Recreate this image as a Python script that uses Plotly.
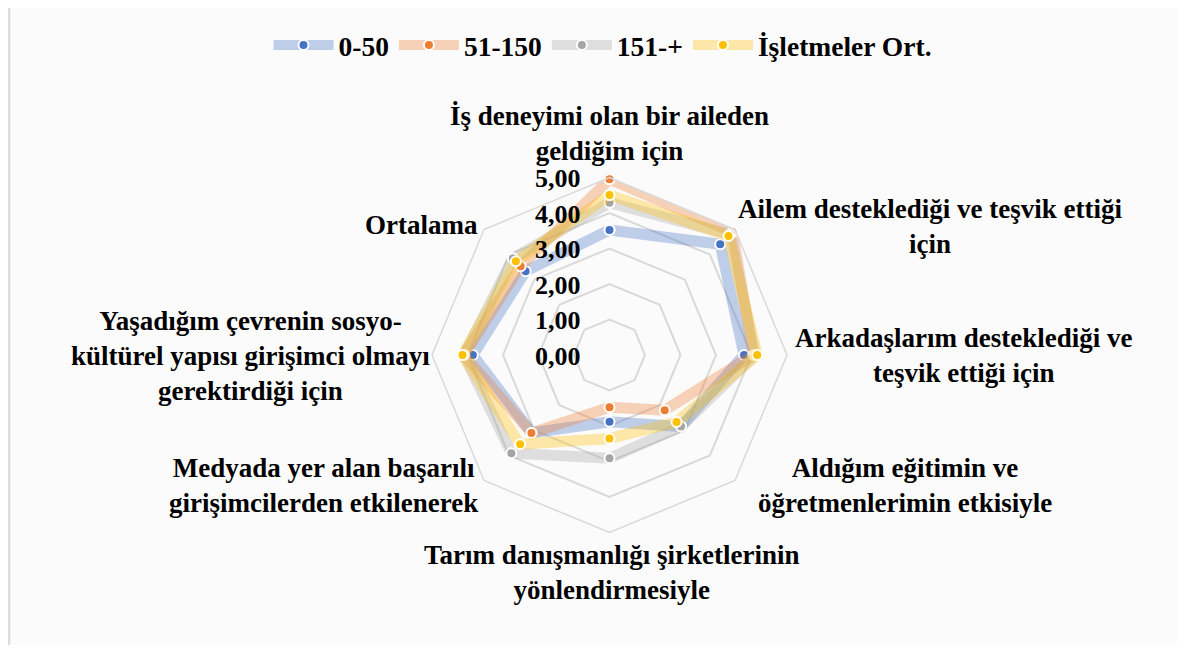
import plotly.graph_objects as go

# data
categories = [
    "İş deneyimi olan bir aileden geldiğim için",
    "Ailem desteklediği ve teşvik ettiği için",
    "Arkadaşlarım desteklediği ve teşvik ettiği için",
    "Aldığım eğitimin ve öğretmenlerimin etkisiyle",
    "Tarım danışmanlığı şirketlerinin yönlendirmesiyle",
    "Medyada yer alan başarılı girişimcilerden etkilenerek",
    "Yaşadığım çevrenin sosyo-kültürel yapısı girişimci olmayı gerektirdiği için",
    "Ortalama",
]
label_text = [
    "İş deneyimi olan bir aileden<br>geldiğim için",
    "Ailem desteklediği ve teşvik ettiği<br>için",
    "Arkadaşlarım desteklediği ve<br>teşvik ettiği için",
    "Aldığım eğitimin ve<br>öğretmenlerimin etkisiyle",
    "Tarım danışmanlığı şirketlerinin<br>yönlendirmesiyle",
    "Medyada yer alan başarılı<br>girişimcilerden etkilenerek",
    "Yaşadığım çevrenin sosyo-<br>kültürel yapısı girişimci olmayı<br>gerektirdiği için",
    "Ortalama",
]
s_0_50 = [3.52, 4.41, 3.79, 2.85, 1.88, 3.10, 3.85, 3.34]
s_51_150 = [4.95, 4.90, 4.05, 2.20, 1.47, 3.11, 4.10, 3.54]
s_151 = [4.29, 4.80, 4.10, 2.85, 2.91, 3.91, 4.10, 3.85]
s_ort = [4.51, 4.74, 4.16, 2.67, 2.35, 3.56, 4.14, 3.73]
series_names = ["0-50", "51-150", "151-+", "İşletmeler Ort."]
tick_vals = [0, 1, 2, 3, 4, 5]
tick_text = ["0,00", "1,00", "2,00", "3,00", "4,00", "5,00"]

series = [s_0_50, s_51_150, s_151, s_ort]
colors = ["#4472C4", "#ED7D31", "#A5A5A5", "#FFC000"]
line_colors = ["rgba(68,114,196,0.33)", "rgba(237,125,49,0.33)",
               "rgba(165,165,165,0.33)", "rgba(255,192,0,0.33)"]

FONT = "Liberation Serif"

# page body has an 8px margin, so work in reference pixels minus 8
W, H = 1169, 637
def px(x):
    return (x - 8) / W
def py(y):
    return 1 - (y - 8) / H

fig = go.Figure()
for name, vals, c, lc in zip(series_names, series, colors, line_colors):
    fig.add_trace(go.Scatterpolar(
        r=vals + vals[:1],
        theta=categories + categories[:1],
        name=name,
        mode="lines+markers",
        line=dict(color=lc, width=11),
        marker=dict(color=c, size=10, line=dict(color="white", width=2)),
    ))

# category labels placed around the chart
label_pos = [(609, 134), (930, 226), (964, 355), (905, 485),
             (612, 572), (323, 485), (250, 356), (421, 225)]
for txt, (x, y) in zip(label_text, label_pos):
    fig.add_annotation(x=px(x), y=py(y), xref="paper", yref="paper",
                       text="<b>" + txt + "</b>", showarrow=False,
                       font=dict(family=FONT, size=27, color="black"),
                       align="center", xanchor="center", yanchor="middle")

# radial tick labels, left of the vertical axis
cx, cy, rad = 609.5, 355, 177.5
for v, t in zip(tick_vals, tick_text):
    fig.add_annotation(x=px(583), y=py(cy - rad * v / 5 + 1), xref="paper", yref="paper",
                       text="<b>" + t + "</b>", showarrow=False,
                       font=dict(family=FONT, size=26, color="black"),
                       xanchor="right", yanchor="middle")

fig.update_layout(
    width=W, height=H,
    margin=dict(l=0, r=0, t=0, b=0),
    paper_bgcolor="#FBFBFB",
    font=dict(family=FONT, size=22, color="black"),
    showlegend=True,
    legend=dict(orientation="h", x=px(603), xanchor="center", y=py(45), yanchor="middle",
                font=dict(family=FONT, size=27.5, color="black", weight="bold"),
                itemwidth=60, bgcolor="rgba(0,0,0,0)"),
    polar=dict(
        domain=dict(x=[px(cx - rad), px(cx + rad)], y=[py(cy + rad), py(cy - rad)]),
        bgcolor="rgba(0,0,0,0)",
        gridshape="linear",
        radialaxis=dict(range=[0, 5], tickvals=tick_vals, showticklabels=False,
                        showline=False, ticks="", angle=90,
                        gridcolor="#D9D9D9", gridwidth=1.5),
        angularaxis=dict(direction="clockwise", rotation=90, showticklabels=False,
                         ticks="", showgrid=False, showline=True,
                         linecolor="#D9D9D9", linewidth=1.5),
    ),
    shapes=[dict(type="line", xref="paper", yref="paper", x0=0.001, x1=0.001,
                 y0=0, y1=1, line=dict(color="#D9D9D9", width=2))],
)

fig.write_html("out.html")
